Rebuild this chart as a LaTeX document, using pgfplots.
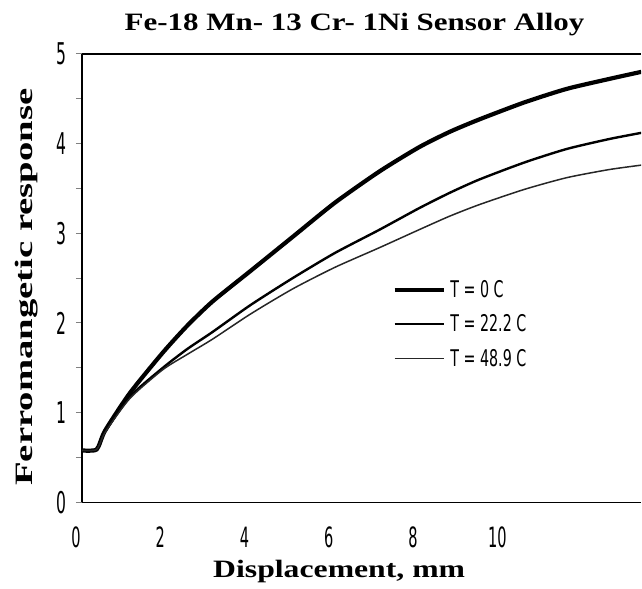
\documentclass[border=0pt]{standalone}
\usepackage{pgfplots}
\pgfplotsset{compat=1.18}
\usepackage{fontspec}
\setmainfont{Liberation Serif}
\newfontfamily\labfont[FakeStretch=1.27]{Liberation Serif}
\newfontfamily\ylabfont[FakeStretch=1.55]{Liberation Serif}
\newfontfamily\titlefont[FakeStretch=1.24]{Liberation Serif}
\newfontfamily\tickfont[FakeStretch=0.52]{DejaVu Sans}
\newfontfamily\legfont[FakeStretch=0.62]{DejaVu Sans}
\begin{document}
\begin{tikzpicture}
\begin{axis}[
  width=560pt, height=449pt, scale only axis,
  xmin=0, xmax=13.27, ymin=0, ymax=5,
  axis x line=box, axis y line=left,
  axis line style={-, line width=1.6pt},
  xtick={0,2,4,6,8,10},
  ytick={0,1,2,3,4,5},
  minor y tick num=1,
  tick align=outside,
  major tick length=6pt, minor tick length=6pt,
  xtick style={draw=none},
  ytick style={line width=1pt},
  /pgf/number format/assume math mode=true,
  yticklabel style={font=\tickfont\fontsize{30}{30}\selectfont, xshift=-6pt},
  xticklabel style={font=\tickfont\fontsize{28}{28}\selectfont, yshift=-15pt, xshift=-6pt},
  title={\titlefont\bfseries\fontsize{25}{30}\selectfont Fe-18 Mn- 13 Cr- 1Ni Sensor Alloy},
  title style={at={(axis description cs:0.4875,1.053)}, anchor=center},
  xlabel={\labfont\bfseries\fontsize{25}{30}\selectfont Displacement, mm},
  xlabel style={at={(axis description cs:0.46,-0.155)}, anchor=center},
  ylabel={\ylabfont\bfseries\fontsize{25}{30}\selectfont Ferromangetic response},
  ylabel style={at={(axis description cs:-0.098,0.48)}, anchor=center, rotate=0},
  legend style={at={(axis description cs:0.555,0.50)}, anchor=north west, draw=none, fill=none,
    inner sep=0pt, row sep=12pt, font=\legfont\fontsize{23}{23}\selectfont,
    nodes={inner xsep=4pt}},
  legend cell align=left,
  legend image code/.code={\draw[#1] (0cm,0cm) -- (1.75cm,0cm);},
]
\addplot[black, line width=4.2pt, smooth, tension=0.4] coordinates {
(0,0.58)(0.35,0.59)(0.55,0.80)(1.14,1.22)(1.92,1.67)(2.5,1.97)(3.10,2.24)(4.0,2.58)(5.0,2.96)(6.0,3.34)(7.06,3.69)(8.0,3.96)(8.72,4.13)(9.43,4.27)(10.5,4.46)(11.5,4.61)(12.5,4.72)(13.27,4.80)};
\addlegendentry{T = 0 C}
\addplot[black, line width=2.4pt, smooth, tension=0.4] coordinates {
(0,0.58)(0.35,0.59)(0.55,0.79)(1.14,1.18)(1.92,1.50)(2.5,1.71)(3.10,1.90)(4.0,2.20)(5.0,2.50)(6.0,2.78)(7.06,3.04)(8.0,3.28)(8.72,3.45)(9.43,3.60)(10.5,3.79)(11.5,3.94)(12.5,4.05)(13.27,4.12)};
\addlegendentry{T = 22.2 C}
\addplot[black!85, line width=1.5pt, smooth, tension=0.4] coordinates {
(0,0.58)(0.35,0.59)(0.55,0.78)(1.14,1.16)(1.92,1.48)(2.5,1.65)(3.10,1.82)(4.0,2.10)(5.0,2.38)(6.0,2.62)(7.06,2.84)(8.0,3.04)(8.72,3.19)(9.43,3.32)(10.5,3.49)(11.5,3.62)(12.5,3.71)(13.27,3.76)};
\addlegendentry{T = 48.9 C}
\end{axis}
\path[use as bounding box] ([shift={(-82pt,-86pt)}]current axis.south west) rectangle ([shift={(0pt,54pt)}]current axis.north east);
\end{tikzpicture}
\end{document}
